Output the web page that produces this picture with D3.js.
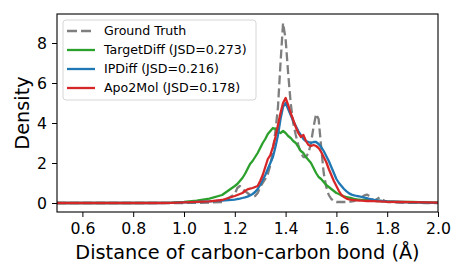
<!DOCTYPE html>
<html>
<head>
<meta charset="utf-8">
<script src="https://cdn.jsdelivr.net/npm/d3@7"></script>
<style>
  body { margin: 0; background: #fff; }
  svg { font-family: "DejaVu Sans", sans-serif; }
</style>
</head>
<body>
<svg id="chart" width="465" height="279"></svg>
<script>
// bond length grid (Å)
var bondX = [0.50, 0.60, 0.70, 0.80, 0.90, 0.95, 1.00, 1.05, 1.10, 1.15,
    1.20, 1.21, 1.22, 1.23, 1.24, 1.25, 1.26, 1.27, 1.28, 1.29,
    1.30, 1.31, 1.32, 1.33, 1.34, 1.35, 1.36, 1.37, 1.38, 1.39,
    1.40, 1.41, 1.42, 1.43, 1.44, 1.45, 1.46, 1.47, 1.48, 1.49,
    1.50, 1.51, 1.52, 1.53, 1.54, 1.55, 1.56, 1.57, 1.58, 1.59,
    1.60, 1.61, 1.62, 1.63, 1.64, 1.65, 1.66, 1.67, 1.68, 1.69,
    1.70, 1.71, 1.72, 1.73, 1.74, 1.75, 1.76, 1.77, 1.78, 1.79,
    1.80, 1.85, 1.90, 1.95, 2.00];

var groundTruth = [0, 0, 0, 0, 0, 0, 0, 0.01, 0.02, 0.05,
    0.45, 0.75, 0.85, 0.7, 0.6, 0.5, 0.4, 0.33, 0.35, 0.5,
    0.8, 1.0, 1.2, 1.45, 1.9, 2.6, 3.6, 4.8, 7.0, 9.0,
    8.2, 6.5, 5.0, 4.0, 3.4, 2.9, 2.5, 2.3, 2.3, 2.5,
    3.0, 3.8, 4.45, 4.2, 2.8, 1.5, 0.8, 0.4, 0.2, 0.1,
    0.05, 0.05, 0.05, 0.05, 0.05, 0.05, 0.08, 0.1, 0.15, 0.2,
    0.3, 0.38, 0.42, 0.35, 0.2, 0.12, 0.2, 0.28, 0.2, 0.1,
    0.05, 0.02, 0.01, 0, 0];

var targetDiff = [0, 0, 0, 0, 0.005, 0.02, 0.06, 0.12, 0.22, 0.4,
    0.85, 0.95, 1.1, 1.25, 1.45, 1.7, 1.95, 2.1, 2.3, 2.5,
    2.75, 3.0, 3.2, 3.45, 3.6, 3.75, 3.7, 3.55, 3.5, 3.6,
    3.5, 3.35, 3.25, 3.1, 3.0, 2.8, 2.6, 2.5, 2.3, 2.15,
    2.0, 1.75, 1.5, 1.3, 1.2, 1.05, 0.9, 0.8, 0.7, 0.6,
    0.5, 0.45, 0.38, 0.33, 0.3, 0.27, 0.24, 0.2, 0.18, 0.17,
    0.16, 0.15, 0.14, 0.13, 0.12, 0.11, 0.1, 0.1, 0.09, 0.09,
    0.08, 0.06, 0.05, 0.03, 0.02];

var ipDiff = [0, 0, 0, 0, 0, 0.01, 0.03, 0.05, 0.08, 0.12,
    0.17, 0.2, 0.22, 0.25, 0.28, 0.32, 0.38, 0.45, 0.55, 0.7,
    0.9, 1.15, 1.4, 1.7, 2.0, 2.3, 2.8, 3.4, 4.2, 4.8,
    5.0, 4.7, 4.4, 4.1, 3.85, 3.6, 3.4, 3.2, 3.1, 3.05,
    3.0, 3.05, 3.05, 2.95, 2.8, 2.6, 2.35, 2.1, 1.8, 1.5,
    1.2, 1.0, 0.85, 0.7, 0.58, 0.48, 0.42, 0.38, 0.35, 0.33,
    0.3, 0.27, 0.24, 0.2, 0.18, 0.15, 0.13, 0.12, 0.1, 0.09,
    0.08, 0.05, 0.03, 0.02, 0.01];

var apo2Mol = [0, 0, 0, 0, 0, 0.01, 0.03, 0.06, 0.08, 0.15,
    0.35, 0.4, 0.45, 0.5, 0.6, 0.68, 0.72, 0.75, 0.8, 0.85,
    1.1, 1.4, 1.8, 2.2, 2.4, 2.8, 3.3, 3.9, 4.5, 5.0,
    5.25, 4.9, 4.5, 4.15, 3.8, 3.5, 3.3, 3.4, 3.1, 2.9,
    2.85, 2.9, 2.85, 2.75, 2.55, 2.3, 2.05, 1.7, 1.4, 1.1,
    0.85, 0.6, 0.4, 0.3, 0.22, 0.18, 0.15, 0.14, 0.13, 0.12,
    0.12, 0.11, 0.1, 0.1, 0.09, 0.09, 0.08, 0.08, 0.07, 0.07,
    0.06, 0.05, 0.04, 0.03, 0.02];

var seriesNames = ["Ground Truth", "TargetDiff (JSD=0.273)", "IPDiff (JSD=0.216)", "Apo2Mol (JSD=0.178)"];
var seriesColors = ["#7f7f7f", "#2ca02c", "#1f77b4", "#d62728"];
var xTicks = [0.6, 0.8, 1.0, 1.2, 1.4, 1.6, 1.8, 2.0];
var yTicks = [0, 2, 4, 6, 8];

var svg = d3.select("#chart"),
    margin = {top: 14, right: 27, bottom: 67, left: 57},
    width = +svg.attr("width") - margin.left - margin.right,
    height = +svg.attr("height") - margin.top - margin.bottom;

var x = d3.scaleLinear().domain([0.5, 2.0]).range([0, width]);
var y = d3.scaleLinear().domain([-0.45, 9.45]).range([height, 0]);

var g = svg.append("g")
    .attr("transform", "translate(" + margin.left + "," + margin.top + ")");

g.append("clipPath").attr("id", "clip")
    .append("rect").attr("width", width).attr("height", height);

var allSeries = [groundTruth, targetDiff, ipDiff, apo2Mol];

var line = d3.line()
    .x(function (d, i) { return x(bondX[i]); })
    .y(function (d) { return y(d); });

var plot = g.append("g").attr("clip-path", "url(#clip)");

allSeries.forEach(function (s, k) {
    plot.append("path")
        .datum(s)
        .attr("fill", "none")
        .attr("stroke", seriesColors[k])
        .attr("stroke-width", 2.3)
        .attr("stroke-linejoin", "round")
        .attr("stroke-dasharray", k === 0 ? "9,4" : null)
        .attr("d", line);
});

// axes
var xAxis = g.append("g")
    .attr("transform", "translate(0," + height + ")")
    .call(d3.axisBottom(x).tickValues(xTicks).tickFormat(d3.format(".1f")).tickSize(5).tickPadding(6));

var yAxis = g.append("g")
    .call(d3.axisLeft(y).tickValues(yTicks).tickFormat(d3.format("d")).tickSize(5).tickPadding(5));

[xAxis, yAxis].forEach(function (a) {
    a.select(".domain").remove();
    a.selectAll("text")
        .style("font-family", "DejaVu Sans, sans-serif")
        .style("font-size", "15.7px")
        .attr("fill", "#000");
    a.selectAll("line").attr("stroke", "#000").attr("stroke-width", 1);
});

// frame
g.append("rect")
    .attr("width", width)
    .attr("height", height)
    .attr("fill", "none")
    .attr("stroke", "#000")
    .attr("stroke-width", 1.1);

// labels
svg.append("text")
    .attr("x", margin.left + width / 2)
    .attr("y", 259)
    .attr("text-anchor", "middle")
    .style("font-size", "19.3px")
    .text("Distance of carbon-carbon bond (Å)");

svg.append("text")
    .attr("transform", "translate(29," + (margin.top + height / 2) + ") rotate(-90)")
    .attr("text-anchor", "middle")
    .style("font-size", "19.3px")
    .text("Density");

// legend
var legend = g.append("g").attr("transform", "translate(6,6)");

legend.append("rect")
    .attr("width", 193)
    .attr("height", 80)
    .attr("rx", 3)
    .attr("fill", "#fff")
    .attr("fill-opacity", 0.8)
    .attr("stroke", "#d6d6d6")
    .attr("stroke-width", 1);

seriesNames.forEach(function (name, k) {
    var row = legend.append("g").attr("transform", "translate(0," + (11 + k * 19) + ")");
    row.append("line")
        .attr("x1", 4).attr("x2", 32)
        .attr("stroke", seriesColors[k])
        .attr("stroke-width", 2.3)
        .attr("stroke-dasharray", k === 0 ? "10,4" : null);
    row.append("text")
        .attr("x", 41)
        .attr("dy", "0.35em")
        .style("font-size", "12.6px")
        .text(name);
});
</script>
</body>
</html>
